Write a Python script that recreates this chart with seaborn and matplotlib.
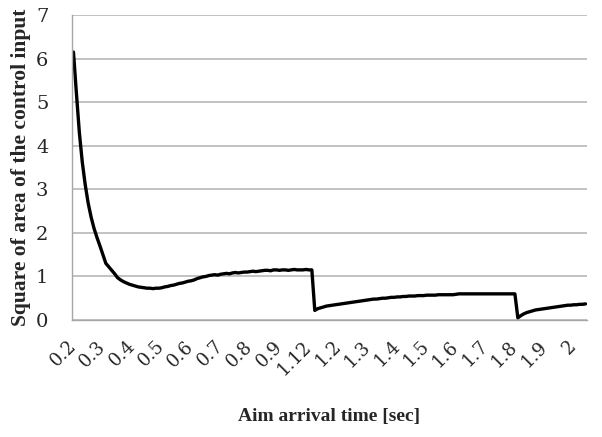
import numpy as np
import pandas as pd
import matplotlib
matplotlib.use("Agg")
import matplotlib.pyplot as plt
import seaborn as sns

# ---- data ----
values = [
    6.15, 5.20, 4.30, 3.62, 3.10, 2.68, 2.36, 2.10, 1.89, 1.70,
    1.50, 1.30, 1.22, 1.14, 1.06, 0.97, 0.92, 0.88, 0.85, 0.82,
    0.80, 0.78, 0.76, 0.75, 0.74, 0.73, 0.73, 0.72, 0.73, 0.73,
    0.74, 0.76, 0.77, 0.79, 0.80, 0.82, 0.84, 0.85, 0.87, 0.89,
    0.90, 0.92, 0.95, 0.97, 0.99, 1.00, 1.02, 1.03, 1.04, 1.03,
    1.05, 1.06, 1.07, 1.06, 1.08, 1.09, 1.08, 1.09, 1.10, 1.10,
    1.11, 1.12, 1.11, 1.12, 1.13, 1.14, 1.14, 1.13, 1.15, 1.15,
    1.14, 1.15, 1.15, 1.14, 1.15, 1.16, 1.15, 1.15, 1.15, 1.16,
    1.15, 1.15, 0.22, 0.26, 0.28, 0.30, 0.32, 0.33, 0.34, 0.35,
    0.36, 0.37, 0.38, 0.39, 0.40, 0.41, 0.42, 0.43, 0.44, 0.45,
    0.46, 0.47, 0.48, 0.48, 0.49, 0.50, 0.50, 0.51, 0.52, 0.52,
    0.53, 0.53, 0.54, 0.54, 0.55, 0.55, 0.55, 0.56, 0.56, 0.56,
    0.57, 0.57, 0.57, 0.57, 0.58, 0.58, 0.58, 0.58, 0.58, 0.58,
    0.59, 0.60, 0.60, 0.60, 0.60, 0.60, 0.60, 0.60, 0.60, 0.60,
    0.60, 0.60, 0.60, 0.60, 0.60, 0.60, 0.60, 0.60, 0.60, 0.60,
    0.60, 0.05, 0.10, 0.14, 0.17, 0.19, 0.21, 0.23, 0.24, 0.25,
    0.26, 0.27, 0.28, 0.29, 0.30, 0.31, 0.32, 0.33, 0.34, 0.34,
    0.35, 0.35, 0.36, 0.36, 0.37,
]
tick_labels = ["0.2", "0.3", "0.4", "0.5", "0.6", "0.7", "0.8", "0.9", "1.12",
               "1.2", "1.3", "1.4", "1.5", "1.6", "1.7", "1.8", "1.9", "2"]
y_ticks = [0, 1, 2, 3, 4, 5, 6, 7]
x_title = "Aim arrival time [sec]"
y_title = "Square of area of the control input"

df = pd.DataFrame({"category": np.arange(len(values)), "value": values})

sns.set_style("white")
plt.rcParams["font.family"] = ["DejaVu Serif"]

W, H = 602, 437
fig = plt.figure(figsize=(W / 100, H / 100), dpi=100)
ax = fig.add_axes([72 / W, (H - 320) / H, (587 - 72) / W, (320 - 15) / H])

sns.lineplot(data=df, x="category", y="value", color="black", linewidth=2.4, ax=ax)

gray = "#a6a6a6"
ax.set_xlim(-0.5, len(values) - 0.5)
ax.set_ylim(0, 7)
ax.set_yticks(y_ticks)
ax.set_yticklabels([str(v) for v in y_ticks], fontsize=14)
ax.grid(axis="y", color="#bdbdbd", linewidth=1.3)
ax.grid(axis="x", visible=False)
ax.set_axisbelow(True)

ax.set_xticks(np.arange(0, 10 * len(tick_labels), 10))
ax.set_xticklabels(tick_labels, rotation=45, ha="right", va="center",
                   rotation_mode="anchor", fontsize=13)
ax.set_xticks(np.arange(-0.5, len(values), 1.0), minor=True)
ax.tick_params(axis="x", which="major", length=0, pad=17)
ax.tick_params(axis="x", which="minor", length=5, width=0.8, color=gray, direction="out")
ax.tick_params(axis="y", which="major", length=6, width=1.2, color="#bdbdbd", pad=11)

for s in ["top", "right"]:
    ax.spines[s].set_visible(False)
for s in ["left", "bottom"]:
    ax.spines[s].set_color(gray)
    ax.spines[s].set_linewidth(1.0)

ax.set_xlabel(x_title, family="Liberation Serif", fontweight="bold", fontsize=14, va="center")
ax.xaxis.set_label_coords(0.5, (320 - 417) / 305)
ax.set_ylabel(y_title, family="Liberation Serif", fontweight="bold", fontsize=15.5, va="center")
ax.yaxis.set_label_coords((21 - 72) / 515, 0.5)

fig.savefig("out.png", dpi=100)
